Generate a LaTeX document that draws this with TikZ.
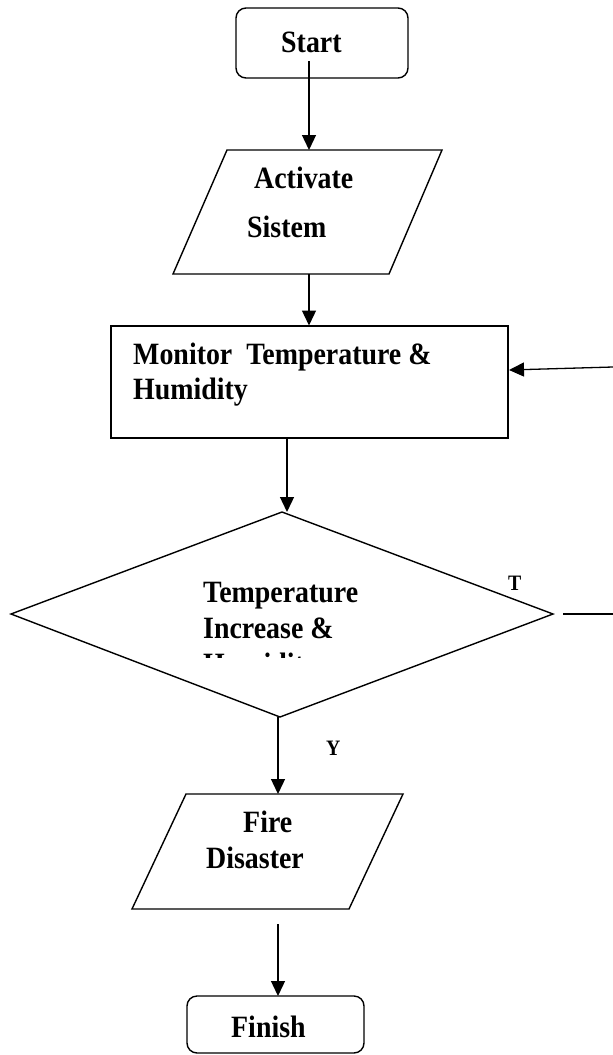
\documentclass[tikz,border=0pt]{standalone}
\usepackage{fontspec}
\setmainfont{Liberation Serif}
\usetikzlibrary{arrows.meta}
\newcommand{\sqz}[1]{\scalebox{0.9}[1]{#1}}
\tikzset{
  shapeline/.style={draw=black, line width=1.4pt},
  conn/.style={draw=black, line width=1.3pt, -{Triangle[length=15pt,width=14pt]}},
  plainconn/.style={draw=black, line width=1.3pt},
  txt/.style={anchor=base west, inner sep=0pt, font=\fontsize{31}{36}\selectfont\bfseries},
  lbl/.style={anchor=base west, inner sep=0pt, font=\fontsize{22}{26}\selectfont\bfseries},
  termbox/.style={shapeline, rounded corners=10pt, inner sep=0pt},
  procbox/.style={shapeline, inner sep=0pt}
}
\begin{document}
\begin{tikzpicture}[x=1pt,y=-1pt]
\useasboundingbox (0,0) rectangle (613,1055);
% Start
\node[termbox, minimum width=172pt, minimum height=70pt] (start) at (322,43) {};
\node[txt] (starttxt) at (281,52) {\sqz{Start}};
% Activate Sistem parallelogram
\draw[shapeline] (227,150) -- (442,150) -- (389,274) -- (173,274) -- cycle;
\coordinate (acttop) at (309,150);
\coordinate (actbot) at (309,274);
\node[txt] (act1) at (254,188) {\sqz{Activate}};
\node[txt] (act2) at (247,237) {\sqz{Sistem}};
% Monitor box
\node[procbox, minimum width=397pt, minimum height=112pt] (mon) at (309.5,382) {};
\node[txt] (mon1) at (133,364) {\sqz{Monitor\ \ Temperature \&}};
\node[txt] (mon2) at (133,399) {\sqz{Humidity}};
% Diamond
\coordinate (dtop) at (282,512);
\coordinate (dright) at (553,614);
\coordinate (dbot) at (280,717);
\coordinate (dleft) at (11,614);
\draw[shapeline] (dtop) -- (dright) -- (dbot) -- (dleft) -- cycle;
\node[txt] (dia1) at (203,602) {\sqz{Temperature}};
\node[txt] (dia2) at (203,638) {\sqz{Increase \&}};
\begin{scope}
\clip (150,645) rectangle (450,657.5);
\node[txt] (dia3) at (203,674) {\sqz{Humidity}};
\end{scope}
\node[lbl] (tlbl) at (508,590) {\sqz{T}};
\node[lbl] (ylbl) at (326,755) {\sqz{Y}};
% Fire Disaster parallelogram
\draw[shapeline] (186,794) -- (403,794) -- (349,909) -- (132,909) -- cycle;
\coordinate (firetop) at (278,794);
\node[txt] (fire1) at (243,832) {\sqz{Fire}};
\node[txt] (fire2) at (206,868) {\sqz{Disaster}};
% Finish
\node[termbox, minimum width=177pt, minimum height=57pt] (finish) at (275.5,1024.5) {};
\node[txt] (fintxt) at (231,1037) {\sqz{Finish}};
% connectors
\coordinate (s1) at (309,61);
\draw[conn] (s1) -- (acttop);
\coordinate (montop) at (309,325.5);
\draw[conn] (actbot) -- (montop);
\coordinate (m1) at (287,438);
\coordinate (m2) at (287,512);
\draw[conn] (m1) -- (m2);
\coordinate (loopin) at (613,367);
\coordinate (monright) at (509,370);
\draw[conn] (loopin) -- (monright);
\coordinate (y1) at (278,717);
\draw[conn] (y1) -- (firetop);
\coordinate (f1) at (278,924);
\coordinate (fintop) at (278,996);
\draw[conn] (f1) -- (fintop);
\coordinate (tout1) at (563,614);
\coordinate (tout2) at (613,614);
\draw[plainconn] (tout1) -- (tout2);
\end{tikzpicture}
\end{document}
